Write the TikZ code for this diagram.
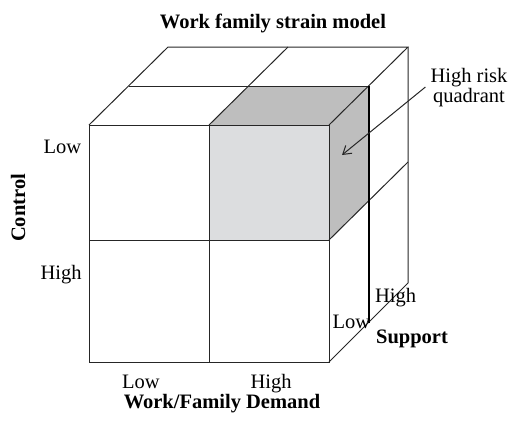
\documentclass[tikz,border=0pt]{standalone}
\usepackage{fontspec}
\setmainfont{Liberation Serif}
\usetikzlibrary{arrows.meta}

\definecolor{frontgray}{RGB}{220,221,223}
\definecolor{sidegray}{RGB}{190,190,190}

\begin{document}
\begin{tikzpicture}[x=1pt, y=-1pt,
    lbl/.style={inner sep=0pt, anchor=base, font=\fontsize{20.5}{20}\selectfont},
    ttl/.style={inner sep=0pt, anchor=base, font=\fontsize{20.5}{20}\selectfont\bfseries},
    edge/.style={line width=1pt, draw=black!85},
    >={Straight Barb[length=8pt,width=10pt]}]
        \useasboundingbox (0,0) rectangle (509,421);

        % Corners of the cube (front face, middle depth, back)
        \coordinate (f1) at (89,125);  \coordinate (f2) at (209,125);  \coordinate (f3) at (329,125);
        \coordinate (f4) at (89,240);  \coordinate (f5) at (209,240);  \coordinate (f6) at (329,240);
        \coordinate (f7) at (89,362);  \coordinate (f8) at (209,362);  \coordinate (f9) at (329,362);
        \coordinate (m1) at (128.5,86); \coordinate (m2) at (248.5,86); \coordinate (m3) at (368.5,86);
        \coordinate (m6) at (368.5,201); \coordinate (m9) at (368.5,323);
        \coordinate (b1) at (168,47);  \coordinate (b2) at (288,47);  \coordinate (b3) at (408,47);
        \coordinate (b6) at (408,162); \coordinate (b9) at (408,283);

        % High risk quadrant (shaded cube)
        \fill[frontgray] (f2) rectangle (f6);
        \fill[sidegray] (f2) -- (m2) -- (m3) -- (f3) -- cycle;
        \fill[sidegray] (f3) -- (m3) -- (m6) -- (f6) -- cycle;

        % Front face
        \draw[edge] (f1) rectangle (f9);
        \draw[edge] (f2) -- (f8);
        \draw[edge] (f4) -- (f6);

        % Top face
        \draw[edge] (f1) -- (b1) -- (b3) -- (f3);
        \draw[edge] (m1) -- (m3);
        \draw[edge] (f2) -- (b2);

        % Right face
        \draw[edge] (b3) -- (b9) -- (f9);
        \draw[edge] (f6) -- (b6);
        \draw[line width=2pt] (m3) -- (m9);

        % Labels
        \node[ttl] (title) at (273,28) {Work family strain model};
        \node[ttl, rotate=90, anchor=center] (control) at (18,208) {Control};
        \node[lbl] (clow) at (62.5,153) {Low};
        \node[lbl] (chigh) at (61,279) {High};
        \node[lbl] (dlow) at (141,388) {Low};
        \node[lbl] (dhigh) at (271,388) {High};
        \node[ttl] (demand) at (222,408) {Work/Family Demand};
        \node[lbl] (slow) at (351.5,328) {Low};
        \node[lbl] (shigh) at (395.5,302) {High};
        \node[ttl] (support) at (412,343) {Support};
        \node[lbl, align=center] (risk) at (469,102) {High risk\\quadrant};

        % Arrow to the shaded cube
        \coordinate (tip) at (342,155);
        \draw[edge, ->] ([xshift=-5pt]risk.west) -- (tip);
\end{tikzpicture}
\end{document}
